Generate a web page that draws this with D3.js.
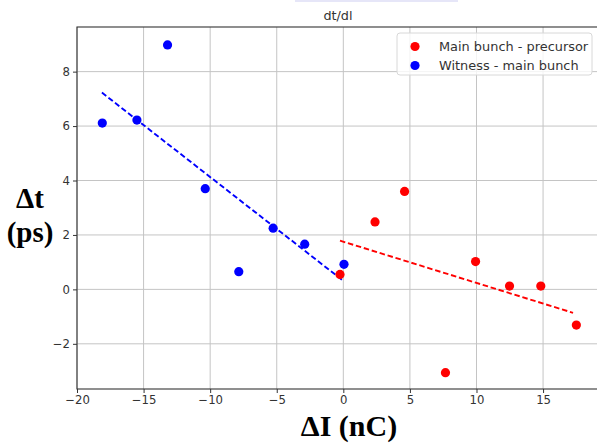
<!DOCTYPE html>
<html>
<head>
<meta charset="utf-8">
<script src="https://cdn.jsdelivr.net/npm/d3@7"></script>
<style>
html,body{margin:0;padding:0;background:#fff;overflow:hidden;}
svg{display:block;}
</style>
</head>
<body>
<svg id="chart" width="597" height="446"></svg>
<script>
// ---- data ----
const mainX = [-0.25, 2.38, 4.6, 7.67, 9.93, 12.48, 14.83, 17.5];
const mainY = [0.55, 2.48, 3.6, -3.06, 1.02, 0.12, 0.12, -1.31];
const witnessX = [-18.1, -15.5, -13.2, -10.37, -7.85, -5.27, -2.9, 0.05];
const witnessY = [6.11, 6.22, 8.98, 3.70, 0.65, 2.25, 1.66, 0.92];
const mainFitX = [-0.25, 17.25];
const mainFitY = [1.79, -0.86];
const witnessFitX = [-18.13, -0.07];
const witnessFitY = [7.23, 0.34];
const xTicks = [-20, -15, -10, -5, 0, 5, 10, 15];
const yTicks = [-2, 0, 2, 4, 6, 8];
const seriesNames = ["Main bunch - precursor", "Witness - main bunch"];
const seriesColors = ["#ff0000", "#0000ff"];

(function () {
const svg = d3.select("#chart");
const pL = 77, pR = 599, pT = 27, pB = 389;

const x = d3.scaleLinear().domain([-20, 19.2]).range([pL, pR]);
const y = d3.scaleLinear().domain([-3.66, 9.64]).range([pB, pT]);

// faint strip at top
svg.append("rect").attr("x", 295).attr("y", 0).attr("width", 163).attr("height", 2).attr("fill", "#e6e6f8");

// grid
const grid = svg.append("g");
grid.selectAll("line.gx").data(xTicks).join("line").attr("class", "gx")
  .attr("x1", d => x(d)).attr("x2", d => x(d)).attr("y1", pT).attr("y2", pB)
  .attr("stroke", "#c4c4c4").attr("stroke-width", 1);
grid.selectAll("line.gy").data(yTicks).join("line").attr("class", "gy")
  .attr("y1", d => y(d)).attr("y2", d => y(d)).attr("x1", pL).attr("x2", pR)
  .attr("stroke", "#c4c4c4").attr("stroke-width", 1);

// axes
const fmt = d => d < 0 ? "\u2212" + Math.abs(d) : String(d);
const xAxis = d3.axisBottom(x).tickValues(xTicks).tickSize(4).tickPadding(3).tickFormat(fmt);
const yAxis = d3.axisLeft(y).tickValues(yTicks).tickSize(4).tickPadding(3).tickFormat(fmt);

const gx = svg.append("g").attr("transform", `translate(0,${pB})`).call(xAxis);
const gy = svg.append("g").attr("transform", `translate(${pL},0)`).call(yAxis);
[gx, gy].forEach(g => {
  g.select(".domain").remove();
  g.selectAll("line").attr("stroke", "#333");
  g.selectAll("text").attr("font-family", "DejaVu Sans").attr("font-size", 11.7).attr("fill", "#333");
});

// frame
svg.append("rect").attr("x", pL).attr("y", pT).attr("width", pR - pL).attr("height", pB - pT)
  .attr("fill", "none").attr("stroke", "#333").attr("stroke-width", 1.1);

// fit lines
const line = d3.line().x(d => x(d[0])).y(d => y(d[1]));
svg.append("path").datum(d3.zip(witnessFitX, witnessFitY)).attr("d", line)
  .attr("fill", "none").attr("stroke", seriesColors[1]).attr("stroke-width", 1.9).attr("stroke-dasharray", "5.5,2.8");
svg.append("path").datum(d3.zip(mainFitX, mainFitY)).attr("d", line)
  .attr("fill", "none").attr("stroke", seriesColors[0]).attr("stroke-width", 1.9).attr("stroke-dasharray", "5.5,2.8");

// points
svg.append("g").selectAll("circle").data(d3.zip(mainX, mainY)).join("circle")
  .attr("cx", d => x(d[0])).attr("cy", d => y(d[1])).attr("r", 4.6).attr("fill", seriesColors[0]);
svg.append("g").selectAll("circle").data(d3.zip(witnessX, witnessY)).join("circle")
  .attr("cx", d => x(d[0])).attr("cy", d => y(d[1])).attr("r", 4.6).attr("fill", seriesColors[1]);

// title
svg.append("text").attr("x", 338).attr("y", 20).attr("text-anchor", "middle")
  .attr("font-family", "DejaVu Sans").attr("font-size", 12.8).attr("fill", "#333").text("dt/dl");

// legend
const lg = svg.append("g");
lg.append("rect").attr("x", 397).attr("y", 33).attr("width", 195).attr("height", 42).attr("rx", 3)
  .attr("fill", "#fff").attr("fill-opacity", 0.8).attr("stroke", "#d8d8d8").attr("stroke-width", 1);
seriesNames.forEach((n, i) => {
  lg.append("circle").attr("cx", 415).attr("cy", 46.5 + i * 19).attr("r", 4.6).attr("fill", seriesColors[i]);
  lg.append("text").attr("x", 439).attr("y", 51.2 + i * 19).attr("font-family", "DejaVu Sans")
    .attr("font-size", 12.9).attr("fill", "#333").text(n);
});

// axis labels
svg.append("text").attr("x", 30).attr("y", 208).attr("text-anchor", "middle")
  .attr("font-family", "Liberation Serif").attr("font-weight", "bold").attr("font-size", 29).attr("fill", "#000").text("\u0394t");
svg.append("text").attr("x", 30).attr("y", 242).attr("text-anchor", "middle")
  .attr("font-family", "Liberation Serif").attr("font-weight", "bold").attr("font-size", 29).attr("fill", "#000").text("(ps)");
svg.append("text").attr("x", 349).attr("y", 436).attr("text-anchor", "middle")
  .attr("font-family", "Liberation Serif").attr("font-weight", "bold").attr("font-size", 30).attr("fill", "#000").text("\u0394I (nC)");
})();
</script>
</body>
</html>
